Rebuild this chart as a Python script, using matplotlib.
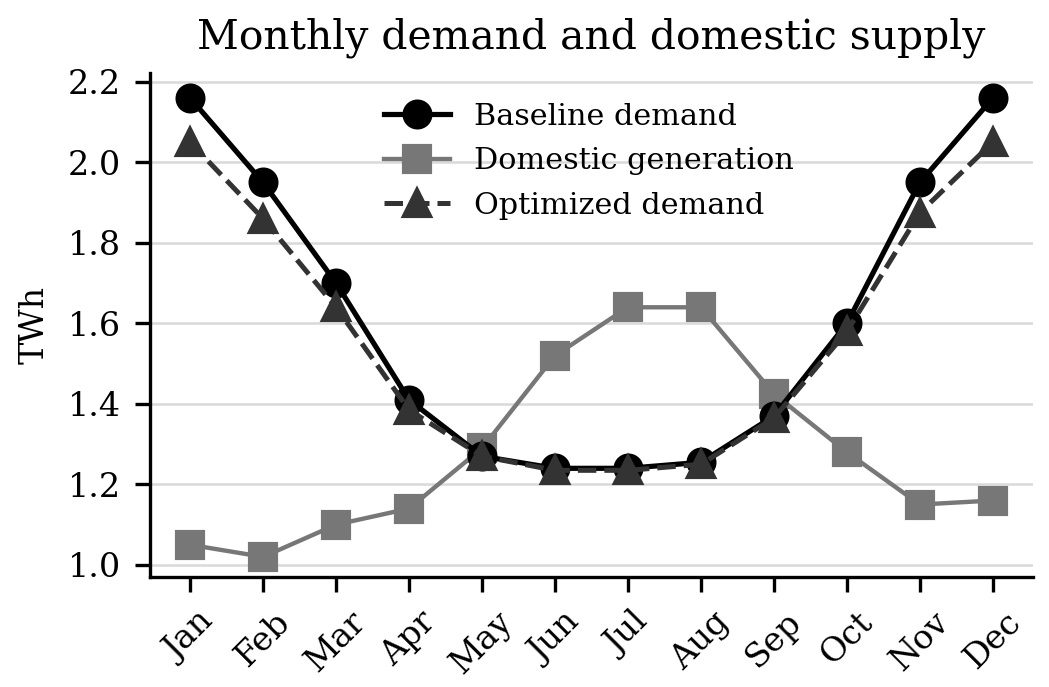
import matplotlib
matplotlib.use("Agg")
import matplotlib.pyplot as plt

months = ["Jan", "Feb", "Mar", "Apr", "May", "Jun", "Jul", "Aug", "Sep", "Oct", "Nov", "Dec"]
baseline = [2.16, 1.95, 1.70, 1.41, 1.27, 1.24, 1.24, 1.255, 1.37, 1.60, 1.95, 2.16]
domestic = [1.05, 1.02, 1.10, 1.14, 1.29, 1.52, 1.64, 1.64, 1.425, 1.28, 1.15, 1.16]
optimized = [2.05, 1.86, 1.64, 1.385, 1.27, 1.235, 1.235, 1.25, 1.365, 1.58, 1.875, 2.05]
yticks = [1.0, 1.2, 1.4, 1.6, 1.8, 2.0, 2.2]

plt.rcParams["font.family"] = ["DejaVu Serif"]
plt.rcParams["font.size"] = 8

fig = plt.figure(figsize=(1049 / 300, 687 / 300), dpi=300)
ax = fig.add_axes([150 / 1049, 1 - 577 / 687, (1033 - 150) / 1049, (577 - 73) / 687])

x = list(range(len(months)))
ax.plot(x, baseline, color="black", lw=1.25, marker="o", ms=6.2, label="Baseline demand", zorder=3)
ax.plot(x, domestic, color="#777777", lw=1.05, marker="s", ms=6.2, label="Domestic generation", zorder=2)
ax.plot(x, optimized, color="#333333", lw=1.2, ls="--", marker="^", ms=6.2, label="Optimized demand", zorder=4)

ax.set_xticks(x)
ax.set_xticklabels(months, rotation=45)
ax.set_yticks(yticks)
ax.set_yticklabels([f"{v:.1f}" for v in yticks])
ax.set_xlim(-0.55, 11.55)
ax.set_ylim(0.97, 2.222)
ax.set_ylabel("TWh")
ax.set_title("Monthly demand and domestic supply", fontsize=9.8)

ax.grid(axis="y", color="#d9d9d9", lw=0.6)
ax.set_axisbelow(True)
for s in ["top", "right"]:
    ax.spines[s].set_visible(False)
for s in ["left", "bottom"]:
    ax.spines[s].set_linewidth(0.8)
ax.tick_params(width=0.8, length=3.5, labelsize=8)

ax.legend(loc="upper center", bbox_to_anchor=(0.497, 0.995), frameon=False,
          fontsize=7.25, handlelength=2.2, labelspacing=0.55)

fig.savefig("out.png", dpi=300)
